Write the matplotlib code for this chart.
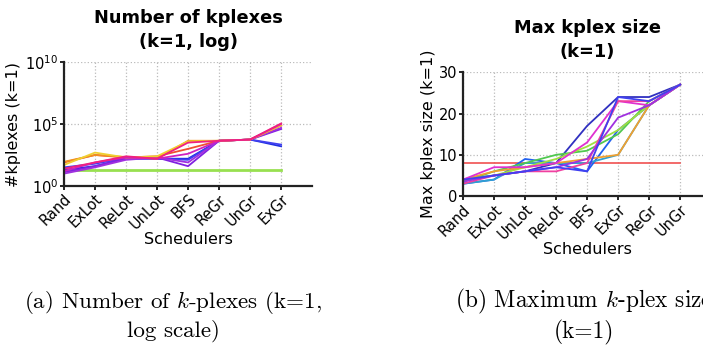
import matplotlib
matplotlib.use('Agg')
import matplotlib.pyplot as plt

# left panel: number of kplexes (k=1), log scale
sched_a = ['Rand', 'ExLot', 'ReLot', 'UnLot', 'BFS', 'ReGr', 'UnGr', 'ExGr']
counts_a = [
    [20, 40, 160, 160, 160, 4500, 5600, 1600],
    [32, 63, 180, 160, 130, 4500, 5600, 2200],
    [13, 40, 160, 200, 40, 4500, 5600, 40000],
    [10, 32, 130, 200, 80, 4500, 5600, 50000],
    [80, 320, 200, 250, 1000, 4500, 5600, 80000],
    [90, 320, 220, 160, 4500, 4500, 5600, 80000],
    [50, 500, 200, 250, 4000, 4500, 5600, 80000],
    [16, 80, 200, 160, 400, 4500, 5600, 100000],
    [25, 80, 250, 160, 3200, 4500, 5600, 112000],
]
colors_a = ['#2030e0', '#4040f0', '#8020e0', '#a030e0', '#f05030',
            '#f09020', '#f0d030', '#d020c0', '#f02080']
baseline_a = 20

# right panel: max kplex size (k=1)
sched_b = ['Rand', 'ExLot', 'UnLot', 'ReLot', 'BFS', 'ExGr', 'ReGr', 'UnGr']
sizes_b = [
    [4, 5, 6, 8, 17, 24, 24, 27],
    [3, 4, 9, 8, 6, 16, 22, 27],
    [3, 4, 8, 8, 8, 10, 22, 27],
    [3.5, 6, 8, 10, 11, 15, 23, 27],
    [4, 5, 7, 9, 12, 16, 22, 27],
    [4, 6, 7, 8, 9, 10, 22, 27],
    [4, 7, 7, 8, 13, 23, 22, 27],
    [3, 5, 6, 6, 8, 23, 23, 27],
    [3.5, 5, 6, 7, 9, 19, 22, 27],
    [4, 5, 6, 7, 6, 24, 23, 27],
]
colors_b = ['#3030c0', '#2060f0', '#30a0d0', '#50c850', '#a0e040',
            '#f0a030', '#e030d0', '#f040a0', '#a030e0', '#4040f0']
baseline_b = 8

fig = plt.figure(figsize=(7.03, 3.49), dpi=100)

def style_axes(ax):
    for s in ['top', 'right']:
        ax.spines[s].set_visible(False)
    for s in ['left', 'bottom']:
        ax.spines[s].set_linewidth(1.6)
        ax.spines[s].set_color('#222222')
    ax.grid(True, linestyle=':', color='#bbbbbb', linewidth=0.9)
    ax.set_axisbelow(True)
    ax.tick_params(direction='out', length=3, width=1.2, labelsize=10.5, pad=1)

# (a)
ax1 = fig.add_axes([0.091, 0.467, 0.353, 0.355])
x = range(len(sched_a))
ax1.plot(x, [baseline_a] * len(sched_a), color='#98e050', lw=2)
for vals, c in zip(counts_a, colors_a):
    ax1.plot(x, vals, color=c, lw=1.3)
ax1.set_yscale('log')
ax1.set_ylim(1, 1e10)
ax1.set_yticks([1, 1e5, 1e10])
ax1.set_yticks([], minor=True)
ax1.set_xlim(0, 8)
ax1.set_xticks(list(x))
ax1.set_xticklabels(sched_a, rotation=45, ha='right', rotation_mode='anchor')
style_axes(ax1)
ax1.set_xlabel('Schedulers', fontsize=11.5, labelpad=0)
ax1.set_ylabel('#kplexes (k=1)', fontsize=11.5, labelpad=3)
ax1.set_title('Number of kplexes\n(k=1, log)', fontsize=12.8, fontweight='bold',
              pad=11, linespacing=1.4)

# (b)
ax2 = fig.add_axes([0.6586, 0.438, 0.353, 0.355])
x = range(len(sched_b))
ax2.plot(x, [baseline_b] * len(sched_b), color='#f05050', lw=1.2)
for vals, c in zip(sizes_b, colors_b):
    ax2.plot(x, vals, color=c, lw=1.3)
ax2.set_ylim(0, 30)
ax2.set_yticks([0, 10, 20, 30])
ax2.set_xlim(0, 8)
ax2.set_xticks(list(x))
ax2.set_xticklabels(sched_b, rotation=45, ha='right', rotation_mode='anchor')
style_axes(ax2)
ax2.set_xlabel('Schedulers', fontsize=11.5, labelpad=0)
ax2.set_ylabel('Max kplex size (k=1)', fontsize=11.5, labelpad=2)
ax2.set_title('Max kplex size\n(k=1)', fontsize=12.8, fontweight='bold',
              pad=11, linespacing=1.4)

# captions
plt.rcParams['mathtext.fontset'] = 'cm'
fig.text(0.246, 0.095, '(a) Number of $k$-plexes (k=1,\nlog scale)', ha='center',
         va='center', fontsize=16.6, family='cmr10', linespacing=1.2)
fig.text(0.83, 0.095, '(b) Maximum $k$-plex size\n(k=1)', ha='center',
         va='center', fontsize=16.8, family='cmr10', linespacing=1.2)

fig.savefig('out.png', dpi=100)
